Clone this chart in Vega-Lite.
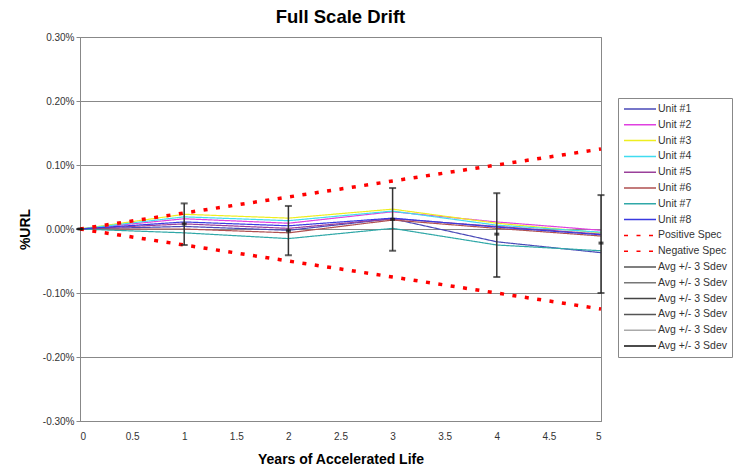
{
  "$schema": "https://vega.github.io/schema/vega-lite/v6.json",
  "autosize": {"type": "none"},
  "width": 521,
  "height": 384,
  "padding": {"left": 80, "top": 37, "right": 138, "bottom": 48},
  "background": "white",
  "title": {"text": "Full Scale Drift", "fontSize": 18.5, "fontWeight": "bold", "font": "Liberation Sans", "color": "#000", "offset": 6, "anchor": "middle"},
  "config": {
    "font": "Liberation Sans",
    "view": {"stroke": "#888", "strokeWidth": 1}
  },
  "datasets": {
    "units": [
      {"series": "Unit #1", "year": 0, "drift": 0}, {"series": "Unit #1", "year": 1, "drift": 0.004}, {"series": "Unit #1", "year": 2, "drift": -0.002}, {"series": "Unit #1", "year": 3, "drift": 0.016}, {"series": "Unit #1", "year": 4, "drift": -0.020}, {"series": "Unit #1", "year": 5, "drift": -0.037},
      {"series": "Unit #2", "year": 0, "drift": 0}, {"series": "Unit #2", "year": 1, "drift": 0.016}, {"series": "Unit #2", "year": 2, "drift": 0.009}, {"series": "Unit #2", "year": 3, "drift": 0.027}, {"series": "Unit #2", "year": 4, "drift": 0.011}, {"series": "Unit #2", "year": 5, "drift": -0.002},
      {"series": "Unit #3", "year": 0, "drift": 0}, {"series": "Unit #3", "year": 1, "drift": 0.023}, {"series": "Unit #3", "year": 2, "drift": 0.017}, {"series": "Unit #3", "year": 3, "drift": 0.031}, {"series": "Unit #3", "year": 4, "drift": 0.009}, {"series": "Unit #3", "year": 5, "drift": -0.006},
      {"series": "Unit #4", "year": 0, "drift": 0}, {"series": "Unit #4", "year": 1, "drift": 0.019}, {"series": "Unit #4", "year": 2, "drift": 0.013}, {"series": "Unit #4", "year": 3, "drift": 0.028}, {"series": "Unit #4", "year": 4, "drift": 0.006}, {"series": "Unit #4", "year": 5, "drift": -0.005},
      {"series": "Unit #5", "year": 0, "drift": 0}, {"series": "Unit #5", "year": 1, "drift": 0.008}, {"series": "Unit #5", "year": 2, "drift": 0.001}, {"series": "Unit #5", "year": 3, "drift": 0.016}, {"series": "Unit #5", "year": 4, "drift": 0.004}, {"series": "Unit #5", "year": 5, "drift": -0.008},
      {"series": "Unit #6", "year": 0, "drift": 0}, {"series": "Unit #6", "year": 1, "drift": 0.000}, {"series": "Unit #6", "year": 2, "drift": -0.006}, {"series": "Unit #6", "year": 3, "drift": 0.014}, {"series": "Unit #6", "year": 4, "drift": 0.001}, {"series": "Unit #6", "year": 5, "drift": -0.011},
      {"series": "Unit #7", "year": 0, "drift": 0}, {"series": "Unit #7", "year": 1, "drift": -0.006}, {"series": "Unit #7", "year": 2, "drift": -0.015}, {"series": "Unit #7", "year": 3, "drift": 0.001}, {"series": "Unit #7", "year": 4, "drift": -0.025}, {"series": "Unit #7", "year": 5, "drift": -0.034},
      {"series": "Unit #8", "year": 0, "drift": 0}, {"series": "Unit #8", "year": 1, "drift": 0.011}, {"series": "Unit #8", "year": 2, "drift": 0.005}, {"series": "Unit #8", "year": 3, "drift": 0.017}, {"series": "Unit #8", "year": 4, "drift": 0.003}, {"series": "Unit #8", "year": 5, "drift": -0.009}
    ],
    "specs": [
      {"series": "Positive Spec", "year": 0, "drift": 0}, {"series": "Positive Spec", "year": 1, "drift": 0.025}, {"series": "Positive Spec", "year": 2, "drift": 0.05}, {"series": "Positive Spec", "year": 3, "drift": 0.075}, {"series": "Positive Spec", "year": 4, "drift": 0.1}, {"series": "Positive Spec", "year": 5, "drift": 0.125},
      {"series": "Negative Spec", "year": 0, "drift": 0}, {"series": "Negative Spec", "year": 1, "drift": -0.025}, {"series": "Negative Spec", "year": 2, "drift": -0.05}, {"series": "Negative Spec", "year": 3, "drift": -0.075}, {"series": "Negative Spec", "year": 4, "drift": -0.1}, {"series": "Negative Spec", "year": 5, "drift": -0.125}
    ],
    "bars": [
      {"year": 0, "lo": 0, "hi": 0, "avg": 0},
      {"year": 1, "lo": -0.025, "hi": 0.040, "avg": 0.008},
      {"year": 2, "lo": -0.041, "hi": 0.036, "avg": -0.003},
      {"year": 3, "lo": -0.034, "hi": 0.064, "avg": 0.015},
      {"year": 4, "lo": -0.075, "hi": 0.056, "avg": -0.008},
      {"year": 5, "lo": -0.100, "hi": 0.053, "avg": -0.022}
    ]
  },
  "layer": [
    {
      "data": {"name": "units"},
      "mark": {"type": "line", "strokeWidth": 1.2},
      "encoding": {
        "x": {"field": "year", "type": "quantitative", "scale": {"domain": [0, 5], "nice": false},
          "axis": {"title": "Years of Accelerated Life", "values": [0, 0.5, 1, 1.5, 2, 2.5, 3, 3.5, 4, 4.5, 5], "labelExpr": "datum.value + ''", "grid": false, "ticks": false, "domainColor": "#888", "labelFontSize": 10, "labelColor": "#333", "labelPadding": 10, "titleFontSize": 14, "titleFontWeight": "bold", "titleColor": "#000", "titlePadding": 11}},
        "y": {"field": "drift", "type": "quantitative", "scale": {"domain": [-0.3, 0.3], "nice": false},
          "axis": {"title": "%URL", "values": [-0.3, -0.2, -0.1, 0, 0.1, 0.2, 0.3], "labelExpr": "replace(format(datum.value, '.2f'), '\u2212', '-') + '%'", "grid": true, "gridColor": "#888", "gridWidth": 1, "domainColor": "#888", "tickColor": "#888", "tickSize": 4, "labelFontSize": 10, "labelColor": "#333", "labelPadding": 2, "titleFontSize": 14, "titleFontWeight": "bold", "titleColor": "#000", "titlePadding": 10}},
        "color": {"field": "series", "type": "nominal",
          "scale": {
            "domain": ["Unit #1", "Unit #2", "Unit #3", "Unit #4", "Unit #5", "Unit #6", "Unit #7", "Unit #8", "Positive Spec", "Negative Spec", "Avg +/- 3 Sdev", "Avg +/- 3 Sdev ", "Avg +/- 3 Sdev  ", "Avg +/- 3 Sdev   ", "Avg +/- 3 Sdev    ", "Avg +/- 3 Sdev     "],
            "range": ["#4a4ab8", "#e040e0", "#eeee20", "#40dcf0", "#9a409a", "#b05050", "#30a8a8", "#3a3ae0", "#ff0000", "#ff0000", "#555555", "#777777", "#444444", "#555555", "#aaaaaa", "#111111"]
          },
          "legend": {
            "orient": "none", "legendX": 538, "legendY": 61, "title": null,
            "symbolType": "M-3.2,0L3.2,0", "symbolSize": 100, "symbolStrokeWidth": 1.5, "symbolOffset": 11,
            "labelFontSize": 10.5, "labelColor": "#333", "labelOffset": 12, "labelLimit": 100,
            "rowPadding": 3.8, "padding": 5,
            "strokeColor": "#888", "fillColor": "white"
          }
        },
        "strokeDash": {"field": "series", "type": "nominal",
          "scale": {
            "domain": ["Unit #1", "Unit #2", "Unit #3", "Unit #4", "Unit #5", "Unit #6", "Unit #7", "Unit #8", "Positive Spec", "Negative Spec", "Avg +/- 3 Sdev", "Avg +/- 3 Sdev ", "Avg +/- 3 Sdev  ", "Avg +/- 3 Sdev   ", "Avg +/- 3 Sdev    ", "Avg +/- 3 Sdev     "],
            "range": [[1, 0], [1, 0], [1, 0], [1, 0], [1, 0], [1, 0], [1, 0], [1, 0], [4, 8.5], [4, 8.5], [1, 0], [1, 0], [1, 0], [1, 0], [1, 0], [1, 0]]
          },
          "legend": {
            "orient": "none", "legendX": 538, "legendY": 61, "title": null,
            "symbolType": "M-3.2,0L3.2,0", "symbolSize": 100, "symbolStrokeWidth": 1.5, "symbolOffset": 11,
            "labelFontSize": 10.5, "labelColor": "#333", "labelOffset": 12, "labelLimit": 100,
            "rowPadding": 3.8, "padding": 5,
            "strokeColor": "#888", "fillColor": "white"
          }
        }
      }
    },
    {
      "data": {"name": "specs"},
      "mark": {"type": "line", "strokeWidth": 3.5},
      "encoding": {
        "x": {"field": "year", "type": "quantitative"},
        "y": {"field": "drift", "type": "quantitative"},
        "color": {"field": "series", "type": "nominal"},
        "strokeDash": {"field": "series", "type": "nominal"}
      }
    },
    {
      "data": {"name": "bars"},
      "mark": {"type": "rule", "color": "#333", "strokeWidth": 1.5},
      "encoding": {"x": {"field": "year", "type": "quantitative"}, "y": {"field": "lo", "type": "quantitative"}, "y2": {"field": "hi"}}
    },
    {
      "data": {"name": "bars"},
      "mark": {"type": "tick", "orient": "horizontal", "color": "#222", "size": 7, "thickness": 2},
      "encoding": {"x": {"field": "year", "type": "quantitative"}, "y": {"field": "lo", "type": "quantitative"}}
    },
    {
      "data": {"name": "bars"},
      "mark": {"type": "tick", "orient": "horizontal", "color": "#222", "size": 7, "thickness": 2},
      "encoding": {"x": {"field": "year", "type": "quantitative"}, "y": {"field": "hi", "type": "quantitative"}}
    },
    {
      "data": {"name": "bars"},
      "mark": {"type": "tick", "orient": "horizontal", "color": "#111", "size": 5, "thickness": 3},
      "encoding": {"x": {"field": "year", "type": "quantitative"}, "y": {"field": "avg", "type": "quantitative"}}
    }
  ]
}
